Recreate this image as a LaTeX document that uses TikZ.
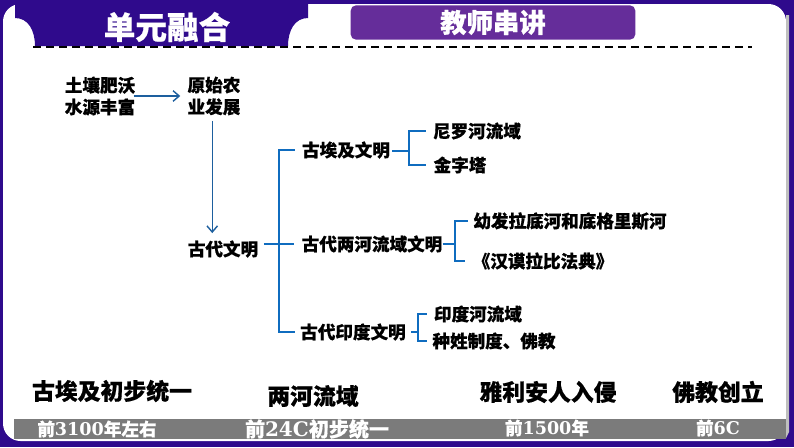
\documentclass[tikz,border=0pt]{standalone}
\usepackage{fontspec}
\usetikzlibrary{arrows.meta}
\newfontfamily\cjk{Noto Sans CJK SC}[BoldFeatures={FakeBold=0.6}]
\newfontfamily\numfont{DejaVu Serif}
\definecolor{framepurple}{HTML}{2F0A8C}
\definecolor{btnpurple}{HTML}{652D9A}
\definecolor{linkblue}{HTML}{0F6CBF}
\definecolor{arrowblue}{HTML}{1D5F9E}
\definecolor{bandgrey}{HTML}{7B7B7B}
\tikzset{
    lbl/.style={font=\cjk\bfseries\fontsize{10}{12.4}\selectfont,inner sep=0pt,align=center},
    big/.style={font=\cjk\bfseries\fontsize{13}{15}\selectfont,inner sep=0pt},
    dated/.style={font=\cjk\bfseries\fontsize{10}{12}\selectfont,inner sep=0pt,text=white},
    bracket/.style={draw=linkblue,line width=1.1pt},
    flow/.style={draw=arrowblue,line width=0.8pt,-{Straight Barb[length=3.5pt,width=6pt]}},
}
\begin{document}
\begin{tikzpicture}[x=0.02cm,y=-0.02cm]
    \useasboundingbox (0,0) rectangle (794,447);
    %% frame
    \fill[framepurple] (0,0) rectangle (794,447);
    \fill[white,rounded corners=10pt] (3,4) rectangle (786,441);
    \fill[black!25] (786,15) -- (789,15) -- (789,432) -- (786,438) -- cycle;
    %% title tab
    \fill[framepurple] (15,0) -- (15,18) .. controls (28,18) and (35,30) .. (35,46) -- (288,46)
        .. controls (288,30) and (295,18) .. (308,18) -- (308,0) -- cycle;
    \draw[line width=0.8pt,dash pattern=on 4.4pt off 3pt] (33,47) -- (752,47);
    \node[font=\cjk\bfseries\fontsize{18}{20}\selectfont,text=white,inner sep=0pt] (title) at (167,27) {单元融合};
    %% button
    \node[fill=btnpurple,rounded corners=3pt,minimum width=162pt,minimum height=19.5pt,inner sep=0pt,
        font=\cjk\bfseries\fontsize{15}{17}\selectfont,text=white] (teacher) at (493,22.5) {教师串讲};
    %% band
    \fill[bandgrey] (14,419) rectangle (786,439);
    %% flow
    \node[lbl] (soil) at (100,96) {土壤肥沃\\水源丰富};
    \node[lbl] (farm) at (214,96) {原始农\\业发展};
    \node[lbl] (civ) at (223,249) {古代文明};
    \draw[flow] ([xshift=-1pt]soil.east) -- ([xshift=-4pt]farm.west);
    \draw[flow] ([xshift=-1pt,yshift=-3pt]farm.south) -- ([xshift=-1pt,yshift=4pt]farm.south |- civ.north);
    %% branches
    \node[lbl] (egypt) at (346,150) {古埃及文明};
    \node[lbl] (meso) at (372,244) {古代两河流域文明};
    \node[lbl] (india) at (353,332) {古代印度文明};
    \coordinate (spine) at (279,244);
    \draw[bracket] ([xshift=-4pt]egypt.west) -| (spine) |- ([xshift=-3pt]india.west);
    \draw[bracket] ([xshift=3pt]civ.east |- spine) -- ([xshift=-4pt]meso.west);
    %% leaves
    \node[lbl] (nile) at (477,131) {尼罗河流域};
    \node[lbl] (pyramid) at (460,165) {金字塔};
    \node[lbl] (rivers) at (570,221) {幼发拉底河和底格里斯河};
    \node[lbl] (code) at (543,261) {《汉谟拉比法典》};
    \node[lbl] (indus) at (478,314) {印度河流域};
    \node[lbl] (caste) at (494,341) {种姓制度、佛教};
    \coordinate (egyptfork) at (409,151);
    \coordinate (mesofork) at (455,244);
    \coordinate (indiafork) at (418,330);
    \draw[bracket] ([xshift=1pt]egypt.east |- egyptfork) -- (egyptfork);
    \draw[bracket] ([xshift=-4pt]nile.west) -| (egyptfork) |- ([xshift=-4pt]pyramid.west);
    \draw[bracket] (meso.east) -- (mesofork);
    \draw[bracket] ([xshift=-3pt]rivers.west) -| (mesofork) |- ([xshift=-4pt]code.west);
    \draw[bracket] ([xshift=3pt]india.east) -- (india.east -| indiafork);
    \draw[bracket] ([xshift=-4pt]indus.west) -| (indiafork) |- ([xshift=-3pt]caste.west);
    %% timeline
    \node[big] (egyptone) at (112,391) {古埃及初步统一};
    \node[big] (tworivers) at (313,396) {两河流域};
    \node[big] (aryan) at (548,392) {雅利安人入侵};
    \node[big] (buddha) at (718,392) {佛教创立};
    \node[dated] (date1) at (97,429) {前{\numfont 3100}年左右};
    \node[dated,font=\cjk\bfseries\fontsize{11.4}{13}\selectfont] (date2) at (317,429) {前{\numfont 24C}初步统一};
    \node[dated] (date3) at (547,428) {前{\numfont 1500}年};
    \node[dated] (date4) at (718,428) {前{\numfont 6C}};
\end{tikzpicture}
\end{document}
